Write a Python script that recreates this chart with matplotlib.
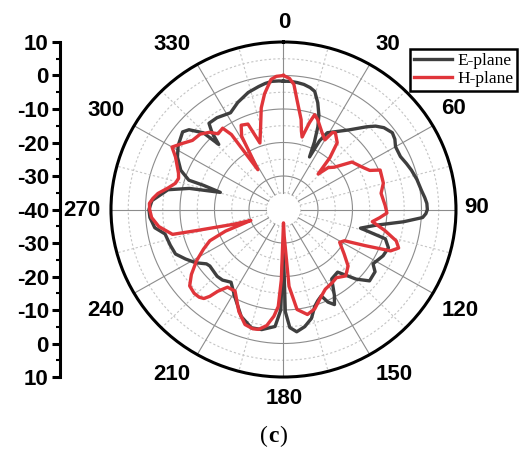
import numpy as np
import matplotlib
matplotlib.use("Agg")
import matplotlib.pyplot as plt

# E-plane (angle deg, gain dB)
e_ang = [0, 3, 6, 9, 12, 14.4, 17.3, 20, 22, 24, 25.7, 27, 29, 33, 38.6, 44.3, 47, 50, 54, 57,
         60, 65, 69, 72.4, 77, 81.9, 85, 87.5, 90, 91.7, 93.4, 96, 100, 104, 106.5, 110.6,
         115.6, 122, 125, 130.5, 134.6, 140, 146, 150, 152.5, 155, 157, 160, 162.6, 166, 170,
         174, 177, 179, 180.3, 181.5, 184, 190, 194.8, 201, 208.7, 215, 220, 224, 231.7, 234,
         238, 242.5, 247, 252, 258, 261.7, 266.5, 270, 274, 280, 283, 285.6, 287.3, 287.7,
         291.5, 297, 302, 308.4, 311, 314.6, 316, 318, 320, 324.9, 332, 337.5, 343.7, 348.9,
         352, 355, 358, 360]
e_db = [-1.7, -1.7, -1.9, -2.2, -2.8, -3.6, -6.6, -10, -13.4, -18, -22.6, -17, -13.8, -12.3,
        -9.6, -5.5, -3.5, -2, -1, -1.5, -2.5, -2.6, -1.8, -1.1, -0.3, 0.4, 1.1, 1.6, 1.7, 1.3,
        0.4, -5, -12.9, -17, -9.2, -7.5, -8, -9.4, -7.6, -7.2, -10.4, -15.6, -15, -10.5, -8,
        -9.5, -12, -11, -9.7, -6.5, -4.5, -3.3, -4.7, -9.5, -29, -10, -5, -3.6, -3.5, -5.8,
        -10.5, -13.5, -12.5, -12.3, -12.8, -12.4, -10, -8, -6, -5.5, -4.9, -2.3, -1.2, -1,
        -1.8, -6, -12, -21, -15.7, -11.2, -8, -5.5, -4, -2.7, -3.7, -7.4, -13, -9, -6.4, -6.5,
        -7.3, -5.4, -3.6, -2.6, -2, -1.6, -1.6, -1.7]

# H-plane (angle deg, gain dB)
h_ang = [0, 2.5, 4.6, 6.8, 10.8, 12.5, 14, 16.2, 17.7, 20.3, 26, 30, 31.7, 33.3, 38, 41, 43.5,
         46, 49.4, 54.5, 61, 65, 67.2, 74.8, 80.3, 87.7, 92, 95, 98, 102, 106, 109, 111.7,
         114.5, 117.8, 121, 127, 132, 137.7, 143, 147, 153, 158, 163, 167.5, 172.5, 176,
         178.5, 180, 181.7, 183, 185, 188, 191.4, 194, 198, 203, 210, 215, 218, 219.5, 221,
         223, 226, 230, 234, 238.7, 243, 246.4, 249, 251, 253, 256, 257, 262, 266.4, 270,
         272.7, 275, 277.5, 281, 284, 287, 289.6, 293, 296.6, 300, 304, 308, 313, 317, 320,
         324, 326, 328, 331, 334, 338, 341, 345, 348, 351, 354.7, 357, 360]
h_db = [0, -0.8, -2.5, -7, -12.7, -16, -17.7, -13, -10.3, -11.4, -14.5, -16, -13, -12.6,
        -14.7, -19.5, -25.4, -22, -20.6, -15.6, -13.9, -12.4, -9.6, -10, -11.3, -10.5, -10,
        -12, -14, -10, -6, -4.7, -6.6, -14, -20, -21, -18, -14.8, -13.2, -14.5, -14, -13.3,
        -11.5, -9, -7.9, -9.9, -17, -32, -36, -19, -11, -8, -5, -3.5, -3.3, -3.9, -6.9,
        -11.9, -11.7, -9, -6.4, -4.8, -4.2, -4, -4.5, -7, -10.5, -14, -16.7, -22, -30, -25,
        -14, -7, -3.5, -1.7, -1.2, -1.1, -2, -3.3, -6, -7.7, -8.2, -7.7, -6.5, -5, -2.7,
        -4.7, -6.5, -7, -8.5, -10.5, -10, -13, -26, -15, -12, -12.5, -19, -14.4, -9, -5,
        -1, -0.2, 0]

r_min, r_max = -40, 10
theta_labels = [str(a) for a in range(0, 360, 30)]
left_ticks = [-50, -40, -30, -20, -10, 0, 10, 20, 30, 40, 50]
left_labels = ["10", "0", "-10", "-20", "-30", "-40", "-30", "-20", "-10", "0", "10"]

plt.rcParams["font.family"] = ["Liberation Sans", "DejaVu Sans"]
fig = plt.figure(figsize=(5.28, 4.55), dpi=100)

# polar plot, allowed to stretch a little like the original
ax = fig.add_axes([0.2102, 0.1714, 0.6534, 0.7363], projection="polar")
ax.set_aspect("auto")
ax.set_theta_zero_location("N")
ax.set_theta_direction(-1)
ax.set_ylim(r_min, r_max)
ax.grid(False)
ax.set_yticks([])

# grid: solid every 10 dB / 30 deg, dashed every 5 dB / 15 deg
th = np.linspace(0, 2 * np.pi, 400)
for rv in np.arange(-35, 10, 5):
    major = (rv % 10 == 0)
    ax.plot(th, np.full_like(th, rv), color="#8c8c8c" if major else "#c4c4c4",
            lw=0.8, ls="-" if major else (0, (2, 2)), zorder=1)
for a in range(0, 360, 15):
    major = (a % 30 == 0)
    ax.plot([np.deg2rad(a)] * 2, [-35, r_max], color="#8c8c8c" if major else "#c4c4c4",
            lw=0.8, ls="-" if major else (0, (2, 2)), zorder=1)

ax.plot(np.deg2rad(e_ang), e_db, color="#3f3f3f", lw=2.4, zorder=3, label="E-plane")
ax.plot(np.deg2rad(h_ang), h_db, color="#e0353a", lw=2.4, zorder=4, label="H-plane")

ax.set_xticks(np.deg2rad(np.arange(0, 360, 30)))
ax.set_xticklabels([])
ax.set_xticks(np.deg2rad(np.arange(15, 360, 30)), minor=True)
ax.tick_params(axis="x", which="major", direction="in", length=6, width=1.8)
ax.tick_params(axis="x", which="minor", direction="in", length=3, width=1)
ax.spines["polar"].set_linewidth(2.2)

# angle labels placed by hand (pixel centres as in the original layout)
label_xy = [(284, 22), (388, 45), (453, 108), (477, 208), (460, 310), (394, 375),
            (284, 398), (172, 375), (106, 310), (82, 210), (106, 110), (172, 45)]
for lab, (x, y) in zip(theta_labels, label_xy):
    fig.text(x / 528, 1 - y / 455, lab, fontsize=16, fontweight="bold",
             ha="center", va="center")

leg = ax.legend(loc="upper left", bbox_to_anchor=(0.867, 0.979), frameon=True,
                fancybox=False, prop={"family": "Liberation Serif", "size": 12.5},
                handlelength=2.2, handletextpad=0.3, borderpad=0.2, labelspacing=0.15,
                borderaxespad=0)
leg.get_frame().set_edgecolor("black")
leg.get_frame().set_linewidth(1.8)
leg.get_frame().set_alpha(1)

# left linear axis for radial scale
lax = fig.add_axes([0.1136, 0.1714, 0.0001, 0.7363])
lax.set_ylim(-50, 50)
lax.invert_yaxis()
lax.set_xticks([])
for s in ["top", "right", "bottom"]:
    lax.spines[s].set_visible(False)
lax.spines["left"].set_linewidth(2.2)
lax.set_yticks(left_ticks)
lax.set_yticklabels(left_labels, fontsize=16, fontweight="bold")
lax.set_yticks(np.arange(-45, 50, 10), minor=True)
lax.tick_params(axis="y", which="major", direction="out", length=6, width=2.2, pad=2)
lax.tick_params(axis="y", which="minor", direction="out", length=3, width=1.5)

fig.text(0.508, 0.04, "(", fontsize=17, family="Liberation Serif", ha="right", va="center")
fig.text(0.508, 0.04, "c", fontsize=17, family="Liberation Serif", fontweight="bold",
         ha="left", va="center")
fig.text(0.528, 0.04, ")", fontsize=17, family="Liberation Serif", ha="left", va="center")

fig.savefig("out.png", dpi=100)
